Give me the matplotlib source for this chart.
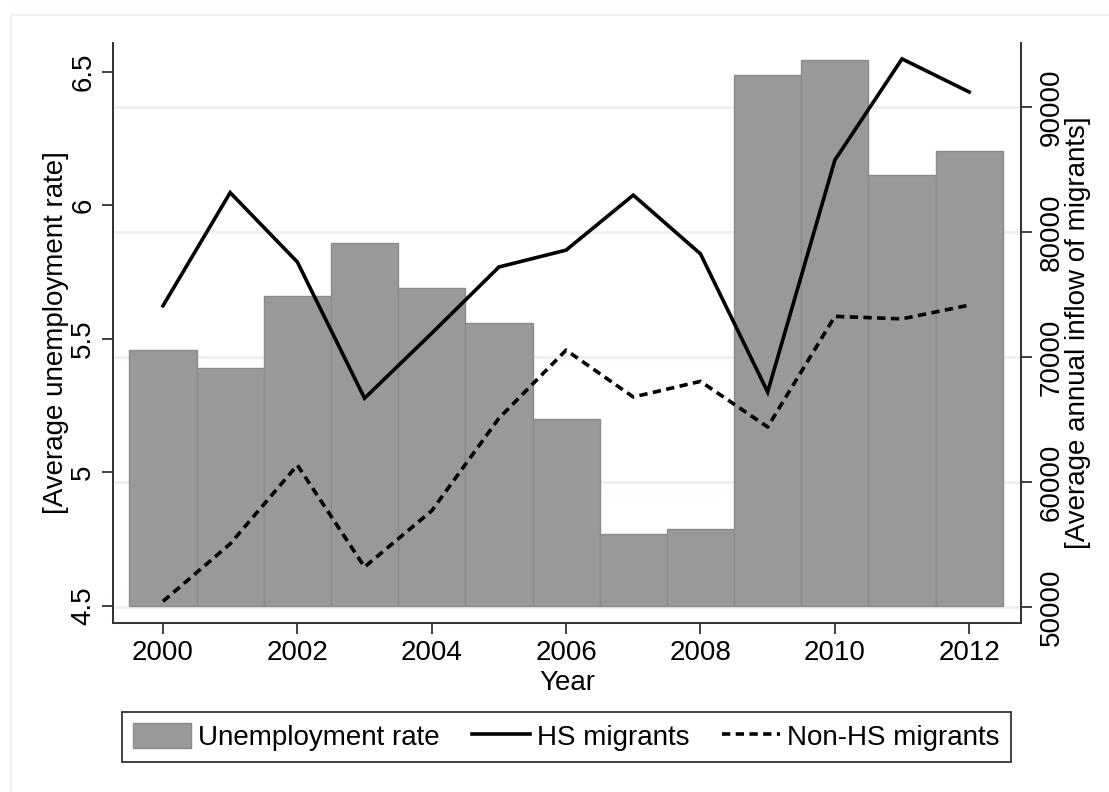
import numpy as np
import matplotlib
matplotlib.use("Agg")
import matplotlib.pyplot as plt
from matplotlib.patches import Rectangle

plt.rcParams['font.family'] = ['Liberation Sans', 'DejaVu Sans']

years = [2000, 2001, 2002, 2003, 2004, 2005, 2006, 2007, 2008, 2009, 2010, 2011, 2012]
unemp = [5.46, 5.39, 5.66, 5.86, 5.69, 5.56, 5.20, 4.77, 4.79, 6.49, 6.545, 6.115, 6.205]
hs_migr = [74100, 83150, 77600, 66700, 71900, 77200, 78550, 82950, 78250, 67200, 85750, 93850, 91200]
nonhs_migr = [50450, 55050, 61350, 53200, 57700, 65100, 70550, 66800, 68050, 64400, 73250, 73050, 74150]

left_ticks = [4.5, 5, 5.5, 6, 6.5]
right_ticks = [50000, 60000, 70000, 80000, 90000]
x_ticks = [2000, 2002, 2004, 2006, 2008, 2010, 2012]

grid_col = '#eaf2f3'
bar_col = '#999999'
axis_col = '#333333'
fs = 20

fig = plt.figure(figsize=(11.09, 7.92), dpi=100)
fig.patch.set_facecolor('white')

# faint outer frame
fig.add_artist(Rectangle((11 / 1109, -0.1), 1.2, 1 - 15 / 792 + 0.1,
                         transform=fig.transFigure, fill=False,
                         edgecolor=grid_col, linewidth=1.5))

ax = fig.add_axes([0.1019, 0.2134, 0.8187, 0.7323])
ax2 = ax.twinx()

ylo, yhi = 4.4363, 6.6086
rlo, rhi = 48720, 95120
ax.set_ylim(ylo, yhi)
ax2.set_ylim(rlo, rhi)
ax.set_xlim(1999.256, 2012.77)

# gridlines follow the right-hand axis but sit behind the bars
for v in right_ticks:
    yl = ylo + (v - rlo) / (rhi - rlo) * (yhi - ylo)
    ax.axhline(yl, color=grid_col, linewidth=2.2, zorder=0)

ax.bar(years, np.array(unemp) - 4.5, bottom=4.5, width=1.0, color=bar_col,
       edgecolor='#8a8a8a', linewidth=1.0, zorder=2, label='Unemployment rate')

ax2.plot(years, hs_migr, color='black', linewidth=2.6, label='HS migrants',
         solid_joinstyle='miter')
ax2.plot(years, nonhs_migr, color='black', linewidth=2.6, linestyle=(0, (2.3, 1.5)),
         label='Non-HS migrants')

for a in (ax, ax2):
    a.spines['top'].set_visible(False)
    for s in ('left', 'right', 'bottom'):
        a.spines[s].set_color(axis_col)
        a.spines[s].set_linewidth(1.3)
    a.set_facecolor('none')

ax.set_yticks(left_ticks)
ax.set_yticklabels(['4.5', '5', '5.5', '6', '6.5'], rotation=90, va='center')
ax2.set_yticks(right_ticks)
ax2.set_yticklabels([str(v) for v in right_ticks], rotation=90, va='center')
ax.set_xticks(x_ticks)
ax.tick_params(axis='x', length=8, width=1.3, color=axis_col, labelsize=fs, pad=4)
ax.tick_params(axis='y', length=8, width=1.3, color=axis_col, labelsize=fs, pad=4)
ax2.tick_params(axis='y', length=8, width=1.3, color=axis_col, labelsize=fs, pad=5)

ax.set_xlabel('Year', fontsize=fs, labelpad=3)
ax.set_ylabel('[Average unemployment rate]', fontsize=fs, labelpad=1)
ax2.set_ylabel('[Average annual inflow of migrants]', fontsize=fs, labelpad=0)

h1, l1 = ax.get_legend_handles_labels()
h2, l2 = ax2.get_legend_handles_labels()
leg = fig.legend(h1 + h2, l1 + l2, loc='lower left', ncol=3, mode='expand',
                 bbox_to_anchor=(0.110, 0.0379, 0.8016, 0.0644),
                 fontsize=fs, frameon=True, fancybox=False, borderaxespad=0,
                 handlelength=2.1, handleheight=1.0, handletextpad=0.25,
                 borderpad=0.4)
leg.get_frame().set_edgecolor('black')
leg.get_frame().set_linewidth(1.3)

fig.savefig('out.png', dpi=100, facecolor='white')
